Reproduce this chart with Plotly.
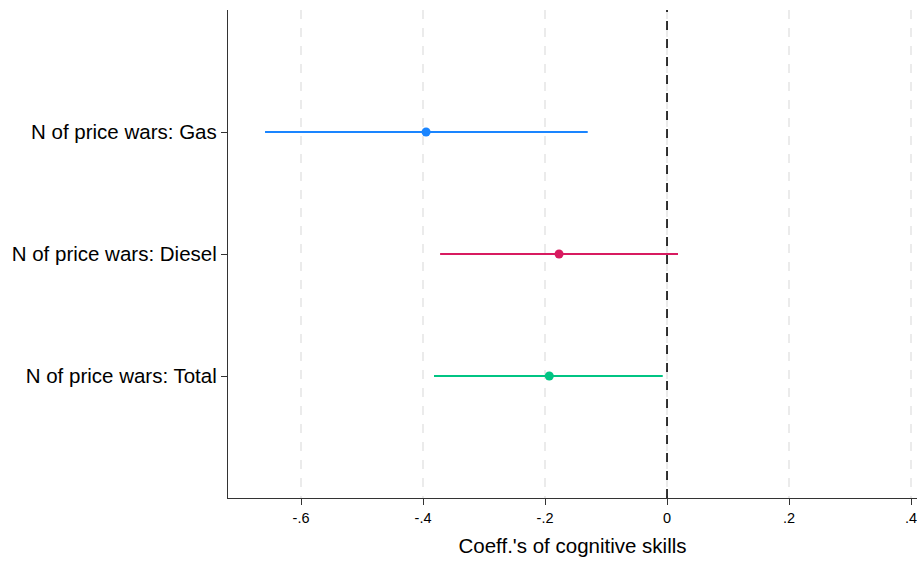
import plotly.graph_objects as go

# Coefficient estimates with confidence intervals
labels = ["N of price wars: Gas", "N of price wars: Diesel", "N of price wars: Total"]
coef = [-0.395, -0.177, -0.193]
ci_low = [-0.659, -0.372, -0.382]
ci_high = [-0.130, 0.018, -0.007]
colors = ["#1a85ff", "#d81b60", "#00c483"]

x_ticks = [-0.6, -0.4, -0.2, 0, 0.2, 0.4]
x_ticktext = ["-.6", "-.4", "-.2", "0", ".2", ".4"]

positions = [1, 2, 3]

fig = go.Figure()

for i in range(len(labels)):
    fig.add_trace(go.Scatter(
        x=[ci_low[i], ci_high[i]], y=[positions[i], positions[i]],
        mode="lines", line=dict(color=colors[i], width=2),
        hoverinfo="skip", showlegend=False,
    ))
    fig.add_trace(go.Scatter(
        x=[coef[i]], y=[positions[i]], mode="markers",
        marker=dict(color=colors[i], size=9),
        name=labels[i], showlegend=False,
    ))

# Reference line at zero
fig.add_shape(type="line", xref="x", yref="paper", x0=0, x1=0, y0=0, y1=1,
              line=dict(color="black", width=1.6, dash="dash"), layer="above")

font_family = "Liberation Sans, Arial, Helvetica, sans-serif"

fig.update_layout(
    width=917, height=563,
    margin=dict(l=228, r=0, t=10, b=65),
    plot_bgcolor="white", paper_bgcolor="white",
    font=dict(family=font_family, color="black"),
    xaxis=dict(
        range=[-0.7197, 0.4098],
        tickvals=x_ticks, ticktext=x_ticktext,
        tickfont=dict(size=14.5),
        ticklabeloverflow="allow",
        ticks="outside", ticklen=6, tickwidth=1.2, tickcolor="#333",
        showline=True, linecolor="#333", linewidth=1.3,
        showgrid=True, gridcolor="#ebebeb", gridwidth=1.5, griddash="dash",
        zeroline=False,
        title=dict(text="Coeff.'s of cognitive skills", font=dict(size=20.5), standoff=14),
    ),
    yaxis=dict(
        range=[4, 0],
        tickvals=positions, ticktext=labels,
        tickfont=dict(size=20.5),
        ticks="outside", ticklen=6, tickwidth=1.2, tickcolor="#333",
        showline=True, linecolor="#333", linewidth=1.3,
        showgrid=False, zeroline=False,
    ),
)

fig.write_html("out.html")
